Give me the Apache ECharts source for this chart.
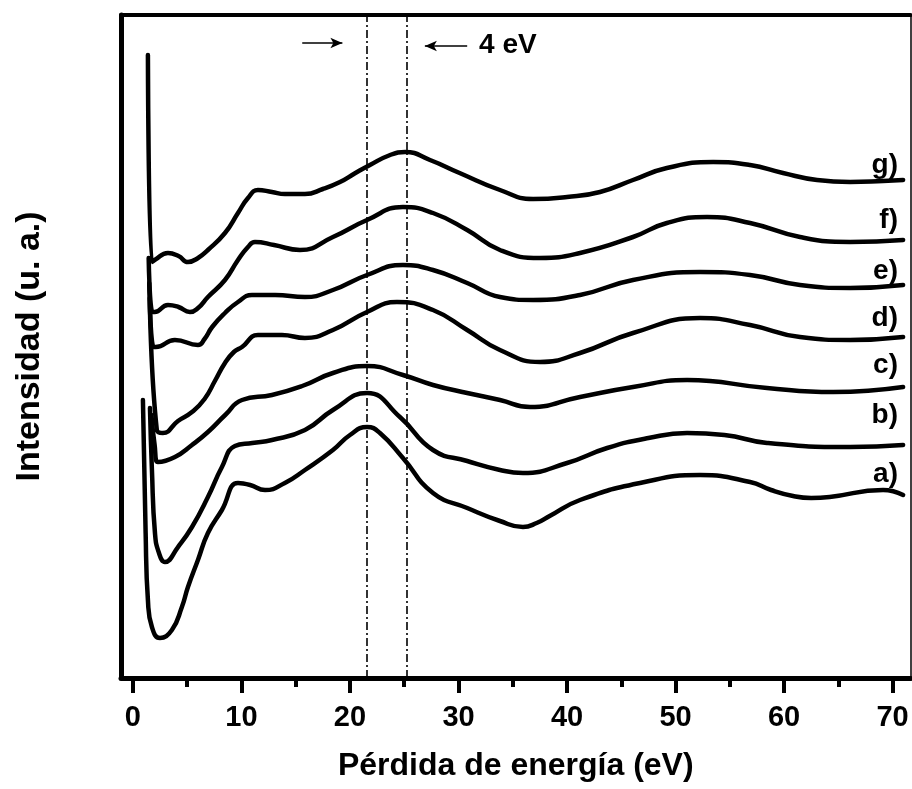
<!DOCTYPE html>
<html>
<head>
<meta charset="utf-8">
<script src="https://cdn.jsdelivr.net/npm/echarts@6/dist/echarts.min.js"></script>
<style>html,body{margin:0;padding:0;background:#fff}#c{width:912px;height:789px}</style>
</head>
<body>
<div id="c"></div>
<script>
// ---- data (energy loss in eV, intensity in arbitrary units) ----
const xTicksMajor = [0, 10, 20, 30, 40, 50, 60, 70];
const xTicksMinor = [5, 15, 25, 35, 45, 55, 65];
const markerEnergies = [21.5, 25.2];

const curveA_E = [0.92, 1.17, 1.38, 1.75, 2.49, 3.59, 4.51, 5.07, 5.99, 6.91, 8.2, 9.68, 10.8, 12.17, 14.0, 15.85, 18.43, 20.0, 21.57, 22.76, 24.88, 27.65, 30.8, 33.82, 35.94, 37.2, 38.4, 41.2, 46.73, 52.26, 56.87, 58.8, 60.83, 62.5, 64.2, 69.12, 70.97];
const curveA_I = [2.78, 1.45, 0.78, 0.51, 0.40, 0.48, 0.71, 0.91, 1.18, 1.45, 1.68, 1.95, 1.93, 1.88, 1.95, 2.08, 2.28, 2.43, 2.51, 2.45, 2.20, 1.85, 1.70, 1.57, 1.51, 1.55, 1.62, 1.78, 1.95, 2.03, 1.96, 1.88, 1.82, 1.80, 1.81, 1.88, 1.83];

const curveB_E = [1.57, 1.75, 2.03, 2.4, 2.95, 4.15, 5.44, 6.91, 8.2, 9.4, 11.0, 12.81, 15.85, 18.43, 21.57, 24.6, 27.65, 30.8, 33.82, 35.94, 40.0, 43.7, 47.5, 51.06, 54.5, 58.43, 66.08, 70.97];
const curveB_I = [2.70, 2.08, 1.45, 1.25, 1.16, 1.31, 1.51, 1.81, 2.11, 2.32, 2.35, 2.38, 2.48, 2.68, 2.85, 2.61, 2.28, 2.17, 2.08, 2.05, 2.15, 2.30, 2.40, 2.45, 2.43, 2.35, 2.31, 2.33];

const curveC_E = [1.7, 2.0, 2.3, 3.87, 5.44, 6.91, 8.5, 10.05, 12.81, 15.6, 18.43, 21.57, 24.88, 27.65, 30.8, 33.82, 36.59, 41.2, 46.08, 51.06, 58.43, 64.52, 70.97];
const curveC_I = [2.63, 2.33, 2.16, 2.21, 2.33, 2.46, 2.63, 2.78, 2.83, 2.92, 3.05, 3.12, 3.03, 2.93, 2.85, 2.78, 2.71, 2.81, 2.91, 2.98, 2.90, 2.86, 2.91];

const curveD_E = [1.55, 2.2, 2.76, 4.15, 5.44, 6.6, 7.6, 8.48, 9.3, 10.05, 11.52, 13.73, 15.85, 18.43, 21.57, 24.33, 27.65, 30.8, 33.82, 37.51, 41.2, 46.08, 52.26, 56.87, 61.47, 66.08, 70.97];
const curveD_I = [3.80, 2.48, 2.45, 2.57, 2.66, 2.79, 2.98, 3.15, 3.26, 3.31, 3.43, 3.43, 3.40, 3.48, 3.66, 3.76, 3.68, 3.48, 3.28, 3.16, 3.25, 3.45, 3.60, 3.53, 3.41, 3.38, 3.41];

const curveE_E = [1.5, 1.9, 2.1, 3.87, 5.99, 6.6, 7.3, 8.48, 9.68, 10.97, 13.1, 15.85, 18.43, 21.57, 24.88, 27.65, 30.8, 33.82, 36.87, 41.2, 46.08, 52.26, 56.87, 61.47, 66.08, 70.97];
const curveE_I = [3.95, 3.31, 3.31, 3.38, 3.33, 3.39, 3.51, 3.65, 3.76, 3.83, 3.83, 3.81, 3.88, 4.03, 4.13, 4.08, 3.95, 3.81, 3.78, 3.83, 3.98, 4.06, 4.03, 3.93, 3.90, 3.93];

const curveF_E = [1.45, 1.8, 2.0, 3.23, 4.2, 5.25, 6.0, 6.91, 8.48, 9.68, 10.6, 11.24, 13.0, 15.39, 18.43, 21.57, 24.88, 27.65, 30.8, 33.82, 37.51, 41.2, 46.08, 49.2, 52.9, 56.87, 61.47, 66.08, 70.97];
const curveF_I = [4.20, 3.66, 3.66, 3.73, 3.71, 3.66, 3.70, 3.81, 3.98, 4.18, 4.31, 4.36, 4.33, 4.28, 4.41, 4.58, 4.71, 4.65, 4.48, 4.28, 4.20, 4.25, 4.41, 4.55, 4.61, 4.55, 4.41, 4.36, 4.38];

const curveG_E = [1.38, 1.75, 2.0, 3.23, 4.2, 5.07, 6.0, 6.91, 8.48, 9.68, 10.6, 11.52, 12.81, 14.0, 15.85, 17.5, 19.08, 20.5, 21.84, 23.7, 25.07, 27.37, 30.1, 33.82, 36.87, 40.0, 43.04, 46.08, 49.2, 53.46, 56.87, 59.9, 63.04, 66.08, 69.12, 70.97];
const curveG_I = [6.23, 4.16, 4.18, 4.25, 4.22, 4.16, 4.20, 4.28, 4.45, 4.65, 4.80, 4.88, 4.86, 4.84, 4.84, 4.89, 4.96, 5.05, 5.13, 5.23, 5.26, 5.18, 5.05, 4.88, 4.79, 4.81, 4.86, 4.98, 5.10, 5.16, 5.13, 5.05, 4.98, 4.96, 4.97, 4.98];

const curveNames = ['a)', 'b)', 'c)', 'd)', 'e)', 'f)', 'g)'];
const curveLabelY = [2.04, 2.63, 3.13, 3.60, 4.07, 4.58, 5.13];
const labelEnergy = 70.5;

const annotationText = '4 eV';
const annotationPos = [31.9, 6.33];
const arrowRight = [[15.6, 6.35], [19.3, 6.35]];
const arrowLeft = [[30.8, 6.32], [26.9, 6.32]];

// ---- build ----
const curves = [
  [curveA_E, curveA_I], [curveB_E, curveB_I], [curveC_E, curveC_I], [curveD_E, curveD_I],
  [curveE_E, curveE_I], [curveF_E, curveF_I], [curveG_E, curveG_I]
];
const zip = (xs, ys) => xs.map((x, i) => [x, ys[i]]);

const X_MIN = -1.1, X_MAX = 71.65, Y_MIN = 0, Y_MAX = 6.63;
const FONT = '"Liberation Sans", Arial, sans-serif';
const BOLD = {fontWeight: 'bold', color: '#000', opacity: 1};
const GRID = {left: 121, right: 1.5, top: 15, bottom: 111};

const lineSeries = curves.map((c, i) => ({
  type: 'line',
  name: curveNames[i],
  xAxisIndex: 0, yAxisIndex: 0,
  data: zip(c[0], c[1]),
  showSymbol: false,
  smooth: 0.5,
  lineStyle: {color: '#000', width: 4.5, cap: 'round', join: 'round'},
  silent: true,
  z: 3
}));

const labelSeries = {
  type: 'scatter',
  xAxisIndex: 0, yAxisIndex: 0,
  symbolSize: 0,
  silent: true,
  itemStyle: {opacity: 1},
  data: curveNames.map((n, i) => ({name: n, value: [labelEnergy, curveLabelY[i]]})),
  label: {show: true, position: 'left', distance: 0, formatter: '{b}',
          fontSize: 28, fontFamily: FONT, ...BOLD},
  z: 4
};

const annotationSeries = {
  type: 'scatter',
  xAxisIndex: 0, yAxisIndex: 0,
  symbolSize: 0,
  silent: true,
  itemStyle: {opacity: 1},
  data: [{name: annotationText, value: annotationPos}],
  label: {show: true, position: 'right', distance: 0, formatter: '{b}',
          fontSize: 28, fontFamily: FONT, ...BOLD},
  markLine: {
    silent: true,
    symbol: ['none', 'none'],
    label: {show: false},
    animation: false,
    data: [
      ...markerEnergies.map(v => ({xAxis: v, lineStyle: {type: [8, 3, 2, 3], width: 1.6, color: '#000'}})),
      [{coord: arrowRight[0], lineStyle: {type: 'solid', width: 1.6, color: '#000'}},
       {coord: arrowRight[1], symbol: 'arrow', symbolSize: [8, 12]}],
      [{coord: arrowLeft[0], lineStyle: {type: 'solid', width: 1.6, color: '#000'}},
       {coord: arrowLeft[1], symbol: 'arrow', symbolSize: [8, 12]}]
    ]
  },
  z: 2
};

const chart = echarts.init(document.getElementById('c'), null, {renderer: 'canvas'});
chart.setOption({
  animation: false,
  backgroundColor: '#fff',
  grid: [GRID, GRID],
  xAxis: [
    {
      gridIndex: 0, type: 'value', min: X_MIN, max: X_MAX, position: 'bottom',
      axisLine: {show: true, onZero: false, lineStyle: {color: '#000', width: 5}},
      axisTick: {show: true, customValues: xTicksMajor, length: 15, inside: false,
                 lineStyle: {color: '#000', width: 4}},
      axisLabel: {show: true, customValues: xTicksMajor, margin: 25, fontSize: 29,
                  fontFamily: FONT, fontWeight: 'bold', color: '#000'},
      splitLine: {show: false},
      name: 'Pérdida de energía (eV)', nameLocation: 'middle', nameGap: 72,
      nameTextStyle: {fontSize: 32, fontFamily: FONT, fontWeight: 'bold', color: '#000'}
    },
    {
      gridIndex: 1, type: 'value', min: X_MIN, max: X_MAX, position: 'bottom',
      axisLine: {show: false, onZero: false},
      axisTick: {show: true, customValues: xTicksMinor, length: 9,
                 lineStyle: {color: '#000', width: 4}},
      axisLabel: {show: false},
      splitLine: {show: false}
    },
    {
      gridIndex: 1, type: 'value', min: X_MIN, max: X_MAX, position: 'top',
      axisLine: {show: true, onZero: false, lineStyle: {color: '#000', width: 4}},
      axisTick: {show: false}, axisLabel: {show: false}, splitLine: {show: false}
    }
  ],
  yAxis: [
    {
      gridIndex: 0, type: 'value', min: Y_MIN, max: Y_MAX, position: 'left',
      axisLine: {show: true, onZero: false, lineStyle: {color: '#000', width: 5}},
      axisTick: {show: false}, axisLabel: {show: false}, splitLine: {show: false},
      name: 'Intensidad (u. a.)', nameLocation: 'middle', nameGap: 74, nameRotate: 90,
      nameTextStyle: {fontSize: 34, fontFamily: FONT, fontWeight: 'bold', color: '#000'}
    },
    {
      gridIndex: 1, type: 'value', min: Y_MIN, max: Y_MAX, position: 'right',
      axisLine: {show: true, onZero: false, lineStyle: {color: '#000', width: 1.5}},
      axisTick: {show: false}, axisLabel: {show: false}, splitLine: {show: false}
    }
  ],
  series: [...lineSeries, labelSeries, annotationSeries]
});
</script>
</body>
</html>
